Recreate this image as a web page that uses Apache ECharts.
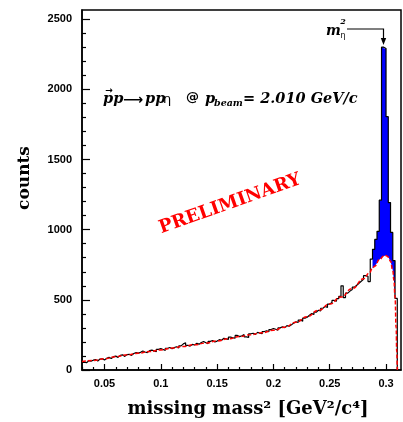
<!DOCTYPE html>
<html>
<head>
<meta charset="utf-8">
<script src="https://cdn.jsdelivr.net/npm/echarts@6/dist/echarts.min.js"></script>
<style>
  html, body { margin: 0; padding: 0; background: #fff; }
  #chart { width: 403px; height: 422px; }
</style>
</head>
<body>
<div id="chart"></div>
<script>
// histogram, bins of 0.002 GeV^2/c^4 starting at 0.030
const binStart = 0.030
const binWidth = 0.002
const counts = [
  55, 52, 66, 63, 70, 74, 64, 78, 80, 72,
  84, 90, 82, 95, 99, 90, 104, 108, 97, 110,
  112, 104, 118, 124, 120, 126, 135, 128, 124, 138,
  142, 136, 130, 147, 152, 146, 140, 155, 160, 151,
  160, 166, 156, 172, 186, 194, 176, 170, 182, 178,
  190, 184, 196, 203, 194, 188, 204, 210, 200, 206,
  216, 212, 226, 222, 218, 234, 230, 226, 246, 238,
  244, 252, 236, 232, 258, 262, 254, 268, 262, 258,
  274, 280, 272, 288, 296, 290, 284, 300, 308, 302,
  316, 312, 322, 334, 344, 338, 356, 348, 370, 376,
  390, 402, 396, 412, 426, 420, 440, 452, 446, 470,
  480, 496, 490, 508, 524, 600, 516, 548, 562, 574,
  590, 604, 618, 632, 646, 672, 668, 630, 790, 860,
  930, 988, 1210, 2300, 2290, 1805, 1193, 980, 780, 510
]

// fitted background (red dashed)
const fitX = [0.030, 0.040, 0.050, 0.060, 0.070, 0.080, 0.090, 0.100, 0.110, 0.120,
  0.130, 0.140, 0.150, 0.160, 0.170, 0.180, 0.190, 0.200, 0.210, 0.220,
  0.230, 0.240, 0.250, 0.260, 0.270, 0.280, 0.285, 0.288, 0.290, 0.294,
  0.298, 0.300, 0.302, 0.304, 0.306, 0.307, 0.308, 0.309, 0.3095, 0.310]
const fitY = [60, 68, 80, 95, 108, 120, 132, 143, 156, 168,
  180, 192, 207, 222, 238, 252, 266, 283, 305, 340,
  380, 425, 470, 520, 580, 650, 690, 725, 740, 785,
  812, 815, 805, 775, 710, 640, 520, 300, 130, 0]

// eta signal region (blue, between fit and data)
const peakFrom = 0.288
const peakTo = 0.308

// axis ticks
const xMin = 0.03
const xMax = 0.3133
const xMajorTicks = [0.05, 0.1, 0.15, 0.2, 0.25, 0.3]
const xMinorTicks = [0.03, 0.04, 0.06, 0.07, 0.08, 0.09, 0.11, 0.12, 0.13, 0.14, 0.16, 0.17,
  0.18, 0.19, 0.21, 0.22, 0.23, 0.24, 0.26, 0.27, 0.28, 0.29, 0.31]
const yMax = 2565
const yMajorTicks = [0, 500, 1000, 1500, 2000, 2500]
const yMinorTicks = [100, 200, 300, 400, 600, 700, 800, 900, 1100, 1200, 1300, 1400,
  1600, 1700, 1800, 1900, 2100, 2200, 2300, 2400]

const histData = counts.map((c, i) => [binStart + i * binWidth, c])
histData.push([binStart + counts.length * binWidth, 0])
const fitData = fitX.map((x, i) => [x, fitY[i]])

const tickLabel = {
  color: '#000', fontSize: 11, fontWeight: 'bold', fontFamily: 'Liberation Sans',
  formatter: v => String(v)
}
const serif = 'DejaVu Serif'

const chart = echarts.init(document.getElementById('chart'))

chart.setOption({
  animation: false,
  grid: {
    left: 82, right: 2, top: 10, bottom: 52,
    show: true, borderColor: '#000', borderWidth: 1.5,
    outerBoundsMode: 'none'
  },
  xAxis: [
    {
      type: 'value', min: xMin, max: xMax, position: 'bottom',
      axisLine: { lineStyle: { color: '#000', width: 1.5 } },
      axisTick: { inside: true, length: 6, customValues: xMajorTicks, lineStyle: { color: '#000', width: 1.2 } },
      axisLabel: Object.assign({ customValues: xMajorTicks, margin: 8 }, tickLabel),
      splitLine: { show: false }
    },
    {
      type: 'value', min: xMin, max: xMax, position: 'bottom',
      axisLine: { show: false },
      axisTick: { inside: true, length: 3, customValues: xMinorTicks, lineStyle: { color: '#000', width: 1.2 } },
      axisLabel: { show: false },
      splitLine: { show: false }
    }
  ],
  yAxis: [
    {
      type: 'value', min: 0, max: yMax, position: 'left',
      axisLine: { show: true, lineStyle: { color: '#000', width: 1.5 } },
      axisTick: { show: true, inside: true, length: 8, customValues: yMajorTicks, lineStyle: { color: '#000', width: 1.2 } },
      axisLabel: Object.assign({ customValues: yMajorTicks, margin: 10 }, tickLabel),
      splitLine: { show: false }
    },
    {
      type: 'value', min: 0, max: yMax, position: 'left',
      axisLine: { show: false },
      axisTick: { show: true, inside: true, length: 4, customValues: yMinorTicks, lineStyle: { color: '#000', width: 1.2 } },
      axisLabel: { show: false },
      splitLine: { show: false }
    }
  ],
  series: [
    {
      // blue area: data above the fit in the eta peak
      type: 'custom',
      z: 1,
      data: [[0.3, 1000]],
      renderItem: (params, api) => {
        const pts = []
        counts.forEach((c, i) => {
          const x0 = binStart + i * binWidth
          if (x0 < peakFrom - 1e-9 || x0 > peakTo - binWidth + 1e-9) return
          pts.push(api.coord([x0, c]), api.coord([x0 + binWidth, c]))
        })
        for (let j = fitX.length - 1; j >= 0; j--) {
          if (fitX[j] >= peakFrom - 1e-9 && fitX[j] <= peakTo + 1e-9) pts.push(api.coord([fitX[j], fitY[j]]))
        }
        return { type: 'polygon', shape: { points: pts }, style: { fill: '#0000ff' } }
      }
    },
    {
      type: 'line',
      z: 3,
      step: 'end',
      showSymbol: false,
      data: histData,
      lineStyle: { color: '#000', width: 1.2 }
    },
    {
      type: 'line',
      z: 4,
      smooth: true,
      smoothMonotone: 'x',
      showSymbol: false,
      data: fitData,
      lineStyle: { color: '#ff0000', width: 1.5, type: [4, 2] }
    }
  ],
  graphic: [
    { type: 'text', x: 25, y: 178, rotation: Math.PI / 2,
      style: { text: 'counts', fontFamily: serif, fontWeight: 'bold', fontSize: 17, fill: '#000', align: 'center', verticalAlign: 'middle' } },
    { type: 'text', x: 248, y: 409,
      style: { text: 'missing mass² [GeV²/c⁴]', fontFamily: serif, fontWeight: 'bold', fontSize: 18, fill: '#000', align: 'center', verticalAlign: 'middle' } },

    // reaction label
    { type: 'text', x: 109, y: 91,
      style: { text: '→', fontFamily: 'DejaVu Sans', fontWeight: 'bold', fontSize: 9, fill: '#000', align: 'center', verticalAlign: 'middle' } },
    { type: 'text', x: 103, y: 99,
      style: { text: 'pp', fontFamily: serif, fontWeight: 'bold', fontStyle: 'italic', fontSize: 14.5, fill: '#000', align: 'left', verticalAlign: 'middle' } },
    { type: 'text', x: 123, y: 100,
      style: { text: '⟶', fontFamily: 'DejaVu Sans', fontWeight: 'bold', fontSize: 14, fill: '#000', align: 'left', verticalAlign: 'middle' } },
    { type: 'text', x: 145, y: 99,
      style: { text: 'pp', fontFamily: serif, fontWeight: 'bold', fontStyle: 'italic', fontSize: 14.5, fill: '#000', align: 'left', verticalAlign: 'middle' } },
    { type: 'text', x: 163, y: 100,
      style: { text: 'η', fontFamily: 'DejaVu Sans', fontSize: 13, fill: '#000', align: 'left', verticalAlign: 'middle' } },
    { type: 'text', x: 186, y: 98,
      style: { text: '@', fontFamily: 'DejaVu Sans', fontWeight: 'bold', fontSize: 13, fill: '#000', align: 'left', verticalAlign: 'middle' } },
    { type: 'text', x: 205, y: 99,
      style: { text: 'p', fontFamily: serif, fontWeight: 'bold', fontStyle: 'italic', fontSize: 14.5, fill: '#000', align: 'left', verticalAlign: 'middle' } },
    { type: 'text', x: 214, y: 104,
      style: { text: 'beam', fontFamily: serif, fontWeight: 'bold', fontStyle: 'italic', fontSize: 9.5, fill: '#000', align: 'left', verticalAlign: 'middle' } },
    { type: 'text', x: 243, y: 99,
      style: { text: '= 2.010 GeV/c', fontFamily: serif, fontWeight: 'bold', fontStyle: 'italic', fontSize: 14.5, fill: '#000', align: 'left', verticalAlign: 'middle' } },

    // m_eta^2 marker
    { type: 'text', x: 326, y: 31,
      style: { text: 'm', fontFamily: serif, fontWeight: 'bold', fontStyle: 'italic', fontSize: 14, fill: '#000', align: 'left', verticalAlign: 'middle' } },
    { type: 'text', x: 343, y: 22,
      style: { text: '2', fontFamily: serif, fontWeight: 'bold', fontStyle: 'italic', fontSize: 8, fill: '#000', align: 'center', verticalAlign: 'middle' } },
    { type: 'text', x: 343, y: 36,
      style: { text: 'η', fontFamily: 'DejaVu Sans', fontSize: 8, fill: '#000', align: 'center', verticalAlign: 'middle' } },
    { type: 'polyline', shape: { points: [[347, 29], [383.5, 29], [383.5, 40]] },
      style: { stroke: '#000', lineWidth: 1.2, fill: null } },
    { type: 'polygon', shape: { points: [[380.8, 38], [386.2, 38], [383.5, 45]] },
      style: { fill: '#000' } },

    // watermark
    { type: 'text', x: 230, y: 204, rotation: 0.34,
      style: { text: 'PRELIMINARY', fontFamily: serif, fontWeight: 'bold', fontSize: 18, fill: '#ff0000', align: 'center', verticalAlign: 'middle' } }
  ]
})
</script>
</body>
</html>
